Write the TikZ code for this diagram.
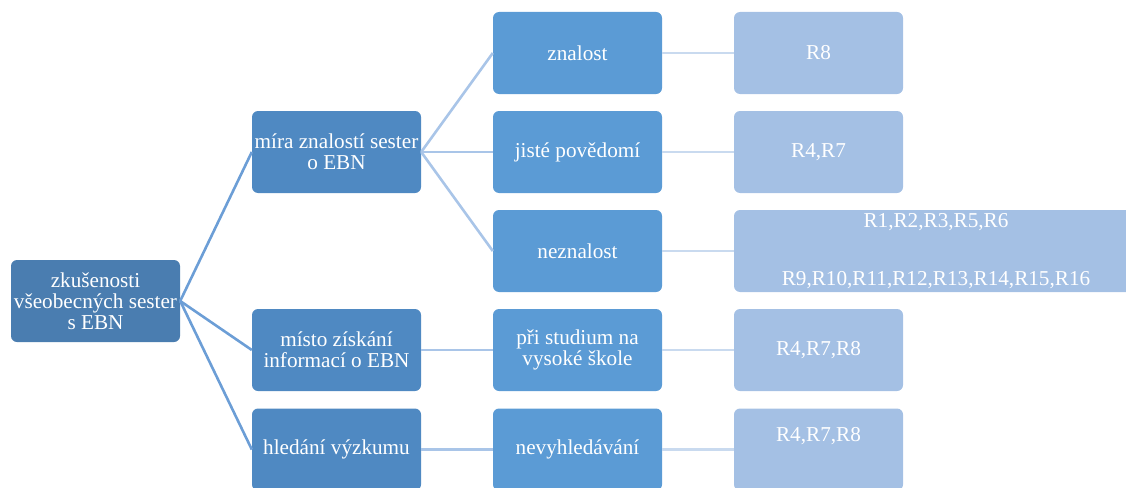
\documentclass[tikz,border=0pt]{standalone}
\usepackage{fontspec}
\setmainfont{Liberation Serif}
\definecolor{rootfill}{HTML}{4A7DB0}
\definecolor{midfill}{HTML}{4F89C2}
\definecolor{subfill}{HTML}{5B9BD5}
\definecolor{leaffill}{HTML}{A4C0E4}
\definecolor{linkA}{HTML}{6C9ED6}
\definecolor{linkB}{HTML}{A9C5E8}
\definecolor{linkC}{HTML}{C9DAEF}
\tikzset{
  box/.style={rectangle, rounded corners=6pt, minimum width=169pt, minimum height=82pt,
    inner sep=0pt, text=white, align=center,
    font=\fontsize{21.2pt}{21pt}\selectfont},
  rootbox/.style={box, fill=rootfill},
  midbox/.style={box, fill=midfill},
  subbox/.style={box, fill=subfill},
  leafbox/.style={box, fill=leaffill},
  linka/.style={draw=linkA, line width=2.6pt},
  linkb/.style={draw=linkB, line width=2.6pt},
  linkc/.style={draw=linkC, line width=2.6pt},
}
\begin{document}
\begin{tikzpicture}[x=1pt,y=-1pt]
\useasboundingbox (0,0) rectangle (1126,487);
\clip (0,0) rectangle (1126,487);
% root
\node[rootbox] (root) at (95.5,301) {zkušenosti\\všeobecných sester\\s EBN};
% first level
\node[midbox] (mira) at (336.5,152) {míra znalostí sester\\o EBN};
\node[midbox] (misto) at (336.5,350) {místo získání\\informací o EBN};
\node[midbox] (hled) at (336.5,449.5) {hledání výzkumu};
% second level
\node[subbox] (znal) at (577.5,53) {znalost};
\node[subbox] (jiste) at (577.5,152) {jisté povědomí};
\node[subbox] (nezn) at (577.5,251) {neznalost};
\node[subbox] (studium) at (577.5,350) {při studium na\\vysoké škole};
\node[subbox] (nevyh) at (577.5,449.5) {nevyhledávání};
% third level
\node[leafbox] (r8) at (818.5,53) {R8};
\node[leafbox] (r47) at (818.5,152) {R4,R7};
\node[leafbox, minimum width=404pt] (rmany) at (936,251) {R1,R2,R3,R5,R6\\[37pt]R9,R10,R11,R12,R13,R14,R15,R16};
\node[leafbox] (r478a) at (818.5,350) {R4,R7,R8};
\node[leafbox] (r478b) at (818.5,449.5) {R4,R7,R8\\[9pt]\mbox{}};
% connectors
\draw[linka] (root.east) -- (mira.west);
\draw[linka] (root.east) -- (misto.west);
\draw[linka] (root.east) -- (hled.west);
\draw[linkb] (mira.east) -- (znal.west);
\draw[linkb] (mira.east) -- (jiste.west);
\draw[linkb] (mira.east) -- (nezn.west);
\draw[linkb] (misto.east) -- (studium.west);
\draw[linkb] (hled.east) -- (nevyh.west);
\draw[linkc] (znal.east) -- (r8.west);
\draw[linkc] (jiste.east) -- (r47.west);
\draw[linkc] (nezn.east) -- (rmany.west);
\draw[linkc] (studium.east) -- (r478a.west);
\draw[linkc] (nevyh.east) -- (r478b.west);
\end{tikzpicture}
\end{document}
